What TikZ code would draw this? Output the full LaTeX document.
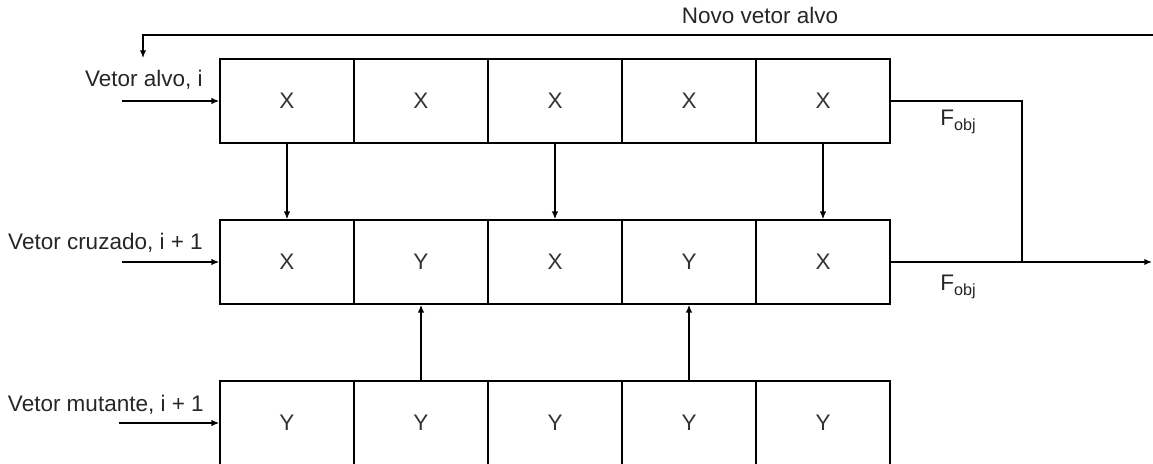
\documentclass[tikz,border=0pt]{standalone}
\usepackage{fontspec}
\setmainfont{Liberation Sans}
\usepackage{tikz}
\usetikzlibrary{arrows.meta,positioning}

\begin{document}
\begin{tikzpicture}
[x=0.025cm,y=-0.025cm,
cell/.style={rectangle,draw=black,line width=1.1pt,minimum width=3.35cm,minimum height=2.1cm,inner sep=0pt,font=\fontsize{16}{19}\selectfont,text=black!80},
lbl/.style={font=\fontsize{16}{19}\selectfont,text=black!85,inner sep=0pt},
wire/.style={line width=0.9pt,-{Latex[length=5.5pt,width=4.5pt]}},
line/.style={line width=0.9pt}]
\useasboundingbox (0,0) rectangle (1153,463);

\node[lbl] (nv) at (760,15) {Novo vetor alvo};

\node[cell] (11) at (287,101) {X};
\node[cell] (12) at (421,101) {X};
\node[cell] (13) at (555,101) {X};
\node[cell] (14) at (689,101) {X};
\node[cell] (15) at (823,101) {X};

\node[cell] (21) at (287,262) {X};
\node[cell] (22) at (421,262) {Y};
\node[cell] (23) at (555,262) {X};
\node[cell] (24) at (689,262) {Y};
\node[cell] (25) at (823,262) {X};

\node[cell] (31) at (287,423) {Y};
\node[cell] (32) at (421,423) {Y};
\node[cell] (33) at (555,423) {Y};
\node[cell] (34) at (689,423) {Y};
\node[cell] (35) at (823,423) {Y};

\node[lbl,anchor=east] (l1) at (203,80) {Vetor alvo, i};
\node[lbl,anchor=east] (l2) at (203,243) {Vetor cruzado, i + 1};
\node[lbl,anchor=east] (l3) at (204,405) {Vetor mutante, i + 1};

\node[lbl] (f1) at (958,122) {F\raisebox{-0.45ex}{\fontsize{11.5}{13}\selectfont obj}};
\node[lbl] (f2) at (958,287) {F\raisebox{-0.45ex}{\fontsize{11.5}{13}\selectfont obj}};

\coordinate (a1) at (122,101);
\coordinate (a2) at (122,262);
\coordinate (a3) at (119,423);
\coordinate (fb) at (1153,35);
\coordinate (fbc) at (143,35);
\coordinate (fbe) at (143,58);
\coordinate (j) at (1022,262);
\coordinate (out) at (1152,262);

\draw [wire] (a1) -- (11);
\draw [wire] (a2) -- (21);
\draw [wire] (a3) -- (31);

\draw [wire] (11) -- (21);
\draw [wire] (13) -- (23);
\draw [wire] (15) -- (25);
\draw [wire] (32) -- (22);
\draw [wire] (34) -- (24);

\draw [wire] (fb) -- (fbc) -- (fbe);
\draw [line] (15.east) -- (15.east -| j) -- (j);
\draw [wire] (25.east) -- (out);
\end{tikzpicture}
\end{document}
